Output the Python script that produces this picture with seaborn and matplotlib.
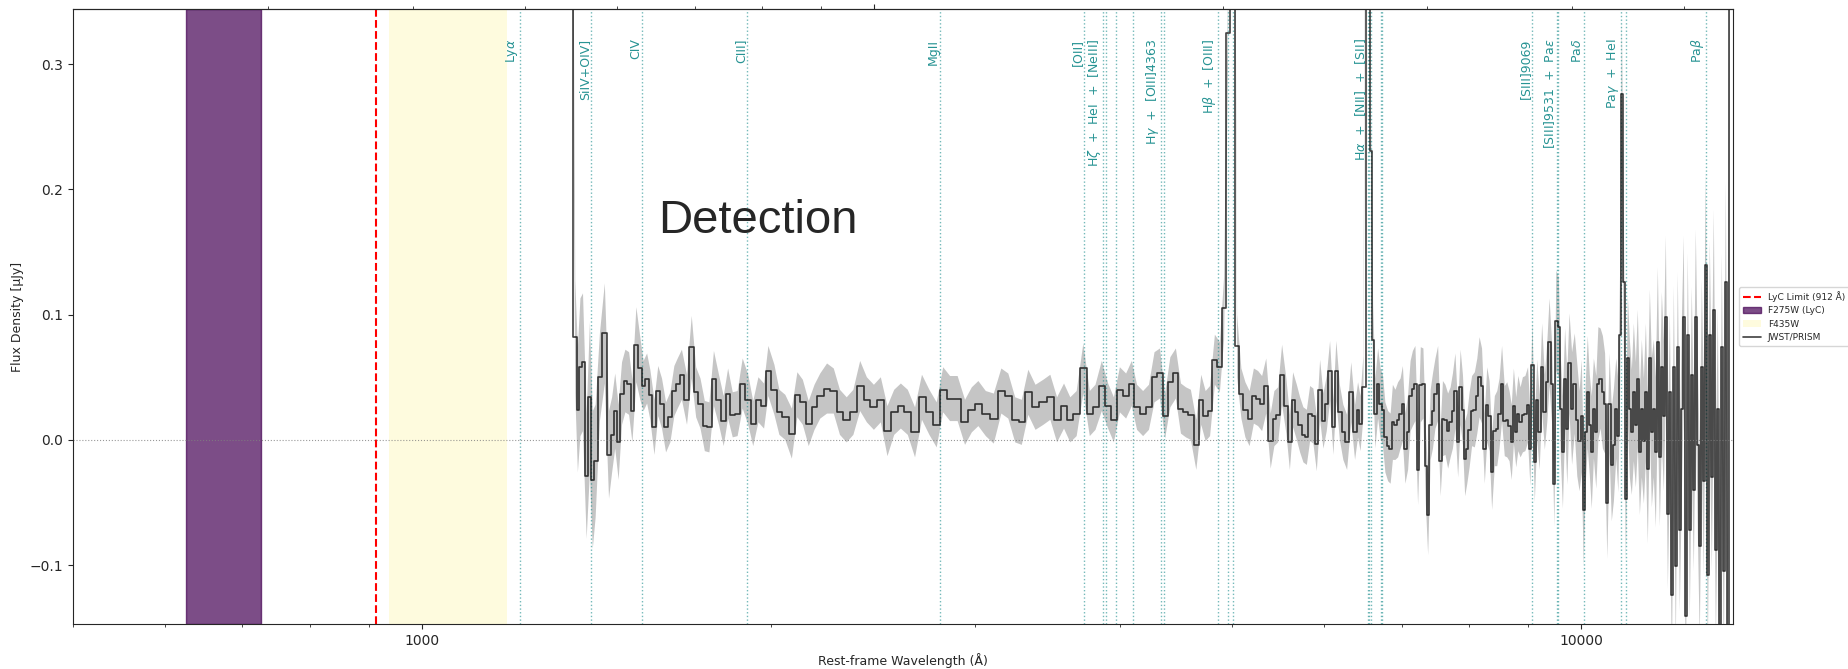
import matplotlib
matplotlib.use("Agg")
import numpy as np
import pandas as pd
import matplotlib.pyplot as plt
import matplotlib.ticker as mticker
import matplotlib.transforms as mtransforms
import seaborn as sns

# ---------------- data ----------------
wave = [
    1346, 1356, 1363, 1370, 1377, 1387, 1396, 1404, 1412, 1424,
    1438, 1450, 1459, 1468, 1478, 1488, 1498, 1509, 1519, 1531,
    1543, 1553, 1564, 1574, 1587, 1599, 1611, 1624, 1638, 1651,
    1662, 1676, 1693, 1709, 1724, 1739, 1754, 1770, 1786, 1804,
    1821, 1837, 1854, 1872, 1891, 1912, 1931, 1951, 1973, 1990,
    2014, 2034, 2058, 2085, 2108, 2131, 2156, 2181, 2206, 2236,
    2266, 2294, 2325, 2356, 2388, 2420, 2454, 2488, 2521, 2555,
    2589, 2625, 2663, 2700, 2740, 2780, 2816, 2855, 2898, 2941,
    2981, 3020, 3065, 3114, 3161, 3205, 3249, 3292, 3335, 3383,
    3436, 3484, 3531, 3580, 3625, 3671, 3720, 3768, 3811, 3859,
    3908, 3953, 4000, 4050, 4096, 4139, 4189, 4238, 4285, 4332,
    4376, 4422, 4471, 4516, 4561, 4606, 4656, 4702, 4743, 4785,
    4831, 4879, 4920, 4958, 5001, 5049, 5092, 5133, 5176, 5220,
    5264, 5306, 5350, 5397, 5437, 5478, 5521, 5568, 5607, 5643,
    5685, 5722, 5760, 5799, 5837, 5875, 5915, 5954, 5993, 6033,
    6073, 6113, 6149, 6192, 6235, 6282, 6334, 6382, 6420, 6452,
    6488, 6560, 6588, 6615, 6645, 6681, 6714, 6745, 6778, 6815,
    6849, 6880, 6915, 6952, 6986, 7018, 7053, 7091, 7126, 7159,
    7195, 7233, 7272, 7310, 7345, 7379, 7416, 7450, 7487, 7527,
    7565, 7599, 7637, 7678, 7716, 7751, 7790, 7832, 7871, 7907,
    7942, 7976, 8013, 8052, 8096, 8136, 8173, 8213, 8258, 8298,
    8337, 8379, 8424, 8465, 8504, 8546, 8592, 8635, 8674, 8712,
    8749, 8790, 8827, 8866, 8907, 8951, 8999, 9041, 9077, 9120,
    9165, 9208, 9254, 9304, 9349, 9392, 9439, 9482, 9519, 9565,
    9605, 9644, 9686, 9728, 9772, 9821, 9874, 9923, 9969, 10012,
    10052, 10092, 10132, 10173, 10213, 10256, 10305, 10348, 10393, 10441,
    10487, 10533, 10581, 10627, 10672, 10722, 10767, 10803, 10841, 10884,
    10928, 10972, 11015, 11059, 11103, 11148, 11191, 11237, 11281, 11327,
    11372, 11416, 11462, 11507, 11553, 11599, 11645, 11691, 11738, 11785,
    11832, 11879, 11927, 11974, 12021, 12068, 12116, 12164, 12213, 12261,
    12310, 12358, 12409, 12457, 12508, 12557, 12607, 12657, 12708, 12758,
    12809, 12860, 12911, 12963, 13014, 13067, 13118, 13171, 13223, 13275,
    13329, 13382, 13435, 13489, 13550,
]

flux = [
    0.60, 0.082, 0.024, 0.058, 0.062, -0.029, 0.034, -0.032, -0.017, 0.050,
    0.085, -0.012, 0.004, 0.023, -0.002, 0.037, 0.047, 0.045, 0.023, 0.076,
    0.057, 0.043, 0.049, 0.036, 0.010, 0.039, 0.029, 0.010, 0.018, 0.039,
    0.045, 0.052, 0.032, 0.074, 0.038, 0.029, 0.011, 0.010, 0.049, 0.032,
    0.015, 0.037, 0.020, 0.021, 0.045, 0.032, 0.013, 0.032, 0.027, 0.055,
    0.040, 0.022, 0.018, 0.005, 0.036, 0.030, 0.013, 0.026, 0.035, 0.041,
    0.039, 0.022, 0.016, 0.022, 0.043, 0.032, 0.026, 0.032, 0.007, 0.022,
    0.027, 0.022, 0.006, 0.034, 0.022, 0.012, 0.040, 0.033, 0.033, 0.014,
    0.024, 0.029, 0.021, 0.017, 0.039, 0.035, 0.016, 0.014, 0.038, 0.026,
    0.030, 0.034, 0.016, 0.027, 0.016, 0.021, 0.057, 0.021, 0.026, 0.043,
    0.027, 0.016, 0.040, 0.035, 0.045, 0.026, 0.021, 0.026, 0.050, 0.053,
    0.019, 0.046, 0.053, 0.025, 0.022, 0.020, -0.004, 0.032, 0.019, 0.023,
    0.064, 0.058, 0.105, 0.325, 0.95, 0.075, 0.037, 0.024, 0.017, 0.035,
    0.033, 0.029, 0.043, -0.001, 0.017, 0.020, 0.052, 0.027, -0.002, 0.032,
    0.022, 0.012, 0.004, 0.002, 0.021, 0.019, -0.003, 0.040, 0.015, 0.029,
    0.055, 0.010, 0.055, 0.022, 0.006, -0.002, 0.038, 0.006, 0.024, 0.013,
    0.042, 1.20, 0.231, 0.080, 0.021, 0.045, 0.029, 0.024, 0.002, -0.005,
    -0.007, 0.014, 0.012, 0.016, 0.021, 0.029, -0.007, 0.006, 0.035, 0.041,
    0.045, -0.024, 0.044, 0.045, -0.021, -0.060, 0.012, 0.023, 0.037, 0.045,
    -0.017, 0.017, 0.016, 0.007, 0.014, 0.023, 0.039, -0.002, 0.042, 0.024,
    -0.015, -0.007, 0.008, 0.023, 0.024, 0.035, 0.050, 0.043, -0.007, 0.028,
    0.019, -0.026, 0.007, 0.009, 0.021, 0.045, 0.015, 0.016, 0.011, -0.002,
    0.027, 0.006, 0.021, 0.014, 0.020, 0.021, 0.028, -0.007, 0.060, -0.018,
    0.032, 0.006, 0.058, 0.022, 0.046, 0.078, 0.045, -0.035, 0.095, 0.090,
    0.025, -0.010, 0.049, 0.009, 0.061, 0.025, 0.045, 0.016, -0.001, 0.019,
    -0.056, 0.006, 0.038, 0.012, -0.010, 0.025, 0.006, 0.045, 0.049, 0.038,
    0.029, -0.050, 0.029, -0.020, -0.004, 0.025, 0.003, 0.084, 0.276, 0.126,
    -0.047, 0.065, 0.025, 0.006, 0.038, 0.012, 0.049, -0.010, 0.025, -0.001,
    0.038, -0.023, 0.065, 0.006, 0.025, -0.010, 0.078, -0.014, 0.058, 0.019,
    0.098, -0.059, 0.038, -0.124, 0.058, -0.101, 0.074, -0.072, 0.025, 0.098,
    -0.141, 0.084, -0.072, 0.052, -0.040, 0.098, -0.004, -0.085, 0.058, -0.033,
    0.140, -0.108, 0.084, -0.030, 0.104, -0.088, 0.025, -0.160, 0.074, -0.105,
    0.126, -0.170, 0.50, 0.80, 1.00,
]

flux_err = [
    0.10, 0.045, 0.05, 0.055, 0.055, 0.05, 0.06, 0.055, 0.045, 0.035,
    0.04, 0.035, 0.03, 0.03, 0.03, 0.025, 0.025, 0.025, 0.025, 0.03,
    0.025, 0.02, 0.02, 0.02, 0.022, 0.02, 0.02, 0.02, 0.02, 0.02,
    0.02, 0.02, 0.02, 0.025, 0.02, 0.02, 0.02, 0.02, 0.022, 0.02,
    0.02, 0.02, 0.018, 0.018, 0.02, 0.02, 0.018, 0.018, 0.018, 0.02,
    0.02, 0.018, 0.018, 0.02, 0.018, 0.018, 0.018, 0.018, 0.018, 0.02,
    0.018, 0.018, 0.018, 0.018, 0.02, 0.018, 0.018, 0.018, 0.02, 0.018,
    0.018, 0.018, 0.02, 0.018, 0.018, 0.018, 0.018, 0.018, 0.018, 0.018,
    0.018, 0.018, 0.018, 0.02, 0.018, 0.018, 0.018, 0.018, 0.018, 0.018,
    0.018, 0.018, 0.018, 0.018, 0.018, 0.018, 0.02, 0.018, 0.018, 0.02,
    0.018, 0.018, 0.018, 0.018, 0.018, 0.018, 0.018, 0.018, 0.02, 0.02,
    0.018, 0.02, 0.02, 0.02, 0.02, 0.02, 0.02, 0.02, 0.02, 0.02,
    0.02, 0.02, 0.025, 0.03, 0.05, 0.025, 0.02, 0.022, 0.022, 0.022,
    0.022, 0.022, 0.022, 0.022, 0.022, 0.022, 0.024, 0.022, 0.022, 0.022,
    0.022, 0.022, 0.022, 0.022, 0.022, 0.022, 0.022, 0.024, 0.022, 0.022,
    0.024, 0.022, 0.024, 0.022, 0.022, 0.022, 0.024, 0.022, 0.022, 0.022,
    0.025, 0.06, 0.03, 0.028, 0.028, 0.028, 0.028, 0.028, 0.028, 0.028,
    0.028, 0.03, 0.028, 0.03, 0.028, 0.03, 0.028, 0.03, 0.028, 0.03,
    0.03, 0.028, 0.03, 0.028, 0.03, 0.032, 0.028, 0.03, 0.028, 0.03,
    0.028, 0.03, 0.028, 0.03, 0.028, 0.03, 0.03, 0.028, 0.03, 0.028,
    0.03, 0.028, 0.03, 0.028, 0.03, 0.03, 0.032, 0.03, 0.028, 0.03,
    0.028, 0.03, 0.028, 0.03, 0.028, 0.03, 0.028, 0.03, 0.028, 0.03,
    0.03, 0.028, 0.03, 0.028, 0.03, 0.03, 0.03, 0.03, 0.035, 0.032,
    0.032, 0.03, 0.035, 0.03, 0.032, 0.035, 0.032, 0.035, 0.04, 0.04,
    0.04, 0.045, 0.04, 0.045, 0.04, 0.045, 0.04, 0.045, 0.04, 0.045,
    0.045, 0.04, 0.045, 0.04, 0.045, 0.04, 0.045, 0.045, 0.04, 0.045,
    0.04, 0.045, 0.04, 0.045, 0.045, 0.04, 0.045, 0.05, 0.06, 0.05,
    0.05, 0.05, 0.055, 0.05, 0.055, 0.05, 0.055, 0.05, 0.055, 0.05,
    0.055, 0.06, 0.055, 0.06, 0.055, 0.06, 0.06, 0.055, 0.06, 0.06,
    0.065, 0.06, 0.065, 0.06, 0.065, 0.065, 0.06, 0.065, 0.07, 0.065,
    0.07, 0.065, 0.07, 0.07, 0.065, 0.07, 0.07, 0.075, 0.07, 0.075,
    0.075, 0.07, 0.075, 0.075, 0.08, 0.075, 0.08, 0.08, 0.075, 0.08,
    0.08, 0.08, 0.09, 0.10, 0.10,
]

line_labels = [
    "Ly$\\alpha$", "SiIV+OIV]", "CIV", "CIII]", "MgII", "[OII]",
    "H$\\zeta$  +  HeI  +  [NeIII]", "", "H$\\gamma$  +  [OIII]4363",
    "H$\\beta$  +  [OIII]", "H$\\alpha$  +  [NII]  +  [SII]", "[SIII]9069",
    "[SIII]9531  +  Pa$\\epsilon$", "Pa$\\delta$", "Pa$\\gamma$  +  HeI", "Pa$\\beta$",
]
line_waves = [
    [1216], [1400], [1549], [1909], [2798], [3727],
    [3869, 3889], [3968, 4102], [4340, 4363],
    [4861, 4959, 5007], [6548, 6563, 6583, 6716, 6731], [9069],
    [9531, 9546], [10049], [10830, 10938], [12818],
]

lyc_limit = 912
f275w_range = [626, 726]
f435w_range = [936, 1184]
obs_factor = 4.073   # 1 + z, for the top (observed, micron) axis
top_minor_ticks = [0.3, 0.4, 0.5, 0.6, 0.7, 0.8, 0.9, 2, 3, 4, 5]
legend_labels = ["LyC Limit (912 Å)", "F275W (LyC)", "F435W", "JWST/PRISM"]

# ---------------- plot ----------------
sns.set_style("ticks")
plt.rcParams["font.family"] = ["DejaVu Sans"]
plt.rcParams["mathtext.fontset"] = "dejavusans"

fig = plt.figure(figsize=(18.49, 6.69), dpi=100)
ax = fig.add_axes([73 / 1849, 45 / 669, 1660 / 1849, 615 / 669])
ax.set_xscale("log")

h_f275 = ax.axvspan(f275w_range[0], f275w_range[1], facecolor="#440154",
                    edgecolor="#440154", alpha=0.7, label=legend_labels[1])
h_f435 = ax.axvspan(f435w_range[0], f435w_range[1], color="#fde725",
                    alpha=0.15, lw=0, label=legend_labels[2])
h_lyc = ax.axvline(lyc_limit, color="red", ls="--", lw=1.5, label=legend_labels[0])

trans = mtransforms.blended_transform_factory(ax.transData, ax.transAxes)
for lab, ws in zip(line_labels, line_waves):
    for w in ws:
        ax.axvline(w, color="teal", ls=":", lw=1.0, alpha=0.55)
    if lab:
        ax.text(min(ws), 0.952, lab, transform=trans, rotation=90,
                ha="right", va="top", color="teal", alpha=0.85, fontsize=9)

w_arr = np.array(wave, dtype=float)
f_arr = np.array(flux)
e_arr = np.array(flux_err)
ax.fill_between(w_arr, f_arr - e_arr, f_arr + e_arr, color="gray", alpha=0.45, lw=0)

df = pd.DataFrame({"wave": w_arr, "flux": f_arr})
sns.lineplot(data=df, x="wave", y="flux", drawstyle="steps-mid", color="black",
             lw=1.2, alpha=0.75, estimator=None, errorbar=None, ax=ax,
             label=legend_labels[3], legend=False)
h_spec = ax.get_lines()[-1]

ax.axhline(0, color="gray", ls=":", lw=0.8, alpha=0.8)

ax.text(1950, 0.175, "Detection", fontsize=34, family="Liberation Sans",
        ha="center", va="center")

ax.set_xlim(500, 13520)
ax.set_ylim(-0.147, 0.344)
ax.set_yticks([-0.1, 0.0, 0.1, 0.2, 0.3])
ax.xaxis.set_major_formatter(mticker.FuncFormatter(lambda v, p: f"{v:.0f}"))
ax.xaxis.set_minor_formatter(mticker.NullFormatter())
ax.tick_params(labelsize=10)
ax.set_xlabel("Rest-frame Wavelength (Å)", fontsize=9)
ax.set_ylabel("Flux Density [μJy]", fontsize=9)

sec = ax.secondary_xaxis("top", functions=(lambda x: x * obs_factor / 1e4,
                                           lambda x: x * 1e4 / obs_factor))
sec.set_xticks([1.0])
sec.set_xticks(top_minor_ticks, minor=True)
sec.xaxis.set_major_formatter(mticker.NullFormatter())
sec.xaxis.set_minor_formatter(mticker.NullFormatter())
sec.tick_params(which="minor", length=2.5)

ax.legend(handles=[h_lyc, h_f275, h_f435, h_spec], labels=legend_labels,
          loc="center left", bbox_to_anchor=(1.002, 0.5), fontsize=6.5,
          frameon=True, borderaxespad=0.3)

fig.savefig("out.png", dpi=100)
